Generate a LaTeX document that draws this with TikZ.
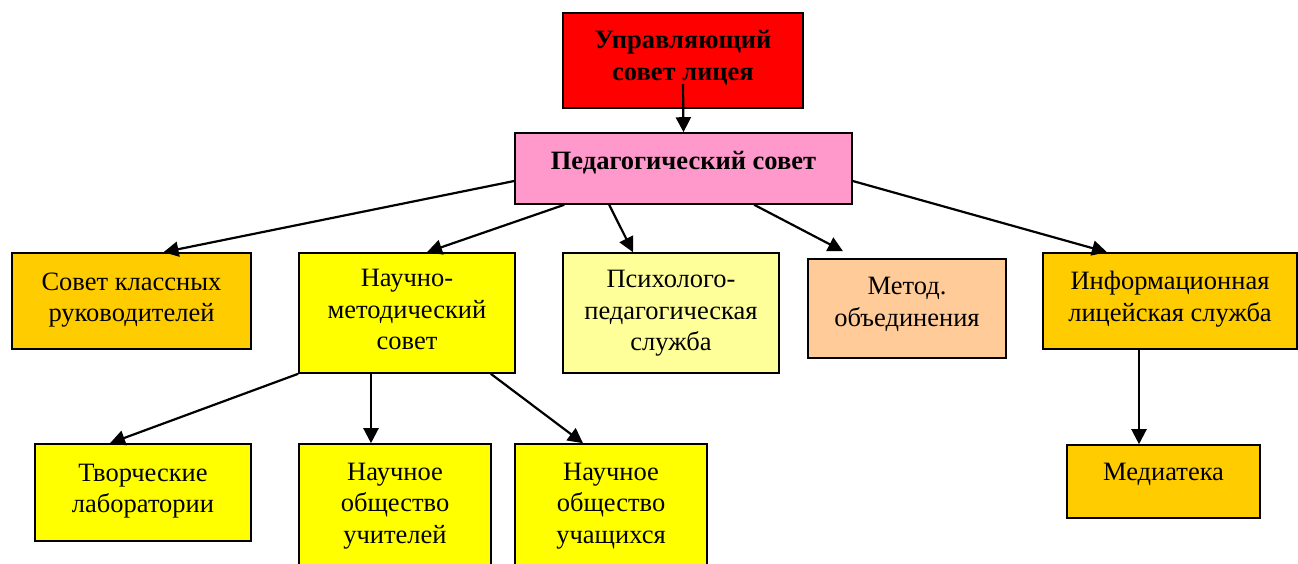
\documentclass[tikz,border=0pt]{standalone}
\usepackage{fontspec}
\setmainfont{Liberation Serif}
\usetikzlibrary{calc,arrows.meta}
\definecolor{URed}{HTML}{FF0000}
\definecolor{PPink}{HTML}{FF99CC}
\definecolor{KGold}{HTML}{FFCC00}
\definecolor{NYellow}{HTML}{FFFF00}
\definecolor{PLight}{HTML}{FFFF99}
\definecolor{MPeach}{HTML}{FFCC99}
% text lines in a box, with extra room below (#1) to lift them
\newcommand{\boxtext}[2]{\raisebox{0pt}[\height][\dimexpr\depth+#1\relax]{\begin{tabular}{@{}c@{}}#2\end{tabular}}}
\tikzset{
    block/.style = {draw, rectangle, line width=1.6pt,
        inner sep=0pt,
        font=\fontsize{26.5}{31.5}\selectfont},
    arrow/.style={draw, line width=2.2pt, -{Triangle[length=15pt,width=15pt]}}
}

\begin{document}
\begin{tikzpicture}[x=1pt,y=-1pt]
    \useasboundingbox (0,0) rectangle (1298,563);
    % top level
    \node[block,fill=URed,minimum width=240pt,minimum height=95pt,font=\fontsize{26.5}{31.5}\selectfont\bfseries] (upr) at (683,60.5) {\boxtext{5pt}{Управляющий\\совет лицея}};
    \node[block,fill=PPink,minimum width=337pt,minimum height=71pt,font=\fontsize{26.5}{31.5}\selectfont\bfseries] (ped) at (683.5,168.5) {\boxtext{10pt}{Педагогический совет}};
    % second row
    \node[block,fill=KGold,minimum width=239pt,minimum height=96pt] (sovet) at (131.5,301) {\boxtext{3pt}{Совет классных\\руководителей}};
    \node[block,fill=NYellow,minimum width=216pt,minimum height=120pt] (nms) at (407,313) {\boxtext{2pt}{Научно-\\методический\\совет}};
    \node[block,fill=PLight,minimum width=216pt,minimum height=120pt] (psy) at (671,313) {\boxtext{0pt}{Психолого-\\педагогическая\\служба}};
    \node[block,fill=MPeach,minimum width=198pt,minimum height=99pt] (met) at (907,308.5) {\boxtext{9pt}{Метод.\\объединения}};
    \node[block,fill=KGold,minimum width=254pt,minimum height=96pt] (info) at (1170,301) {\boxtext{4pt}{Информационная\\лицейская служба}};
    % third row
    \node[block,fill=NYellow,minimum width=216pt,minimum height=97pt] (tvor) at (143,492.5) {\boxtext{4pt}{Творческие\\лаборатории}};
    \node[block,fill=NYellow,minimum width=192pt,minimum height=132pt] (uchit) at (395,510) {\boxtext{9pt}{Научное\\общество\\учителей}};
    \node[block,fill=NYellow,minimum width=192pt,minimum height=132pt] (uchas) at (611,510) {\boxtext{9pt}{Научное\\общество\\учащихся}};
    \node[block,fill=KGold,minimum width=193pt,minimum height=73pt] (media) at (1163.5,481.5) {\boxtext{14pt}{Медиатека}};
    % arrows
    \draw[arrow] ($(upr.south)+(0,-25)$) -- (ped.north);
    \draw[arrow] ($(ped.west)+(0,12.5)$) -- ($(sovet.north)+(32,0)$);
    \draw[arrow] ($(ped.south west)+(50,0)$) -- ($(nms.north)+(20,0)$);
    \draw[arrow] ($(ped.south west)+(95,0)$) -- ($(psy.north)+(-38,0)$);
    \draw[arrow] ($(ped.south west)+(240,0)$) -- ($(met.north)+(-64,-7)$);
    \draw[arrow] ($(ped.east)+(0,12.5)$) -- ($(info.north)+(-63,0)$);
    \coordinate (m) at ($(media.north)+(-24.5,0)$);
    \draw[arrow] (info.south -| m) -- (m);
    \draw[arrow] (nms.south west) -- ($(tvor.north)+(-33,0)$);
    \coordinate (u) at ($(uchit.north)+(-24,0)$);
    \draw[arrow] (nms.south -| u) -- (u);
    \draw[arrow] ($(nms.south east)+(-25,0)$) -- ($(uchas.north)+(-28,0)$);
\end{tikzpicture}
\end{document}
